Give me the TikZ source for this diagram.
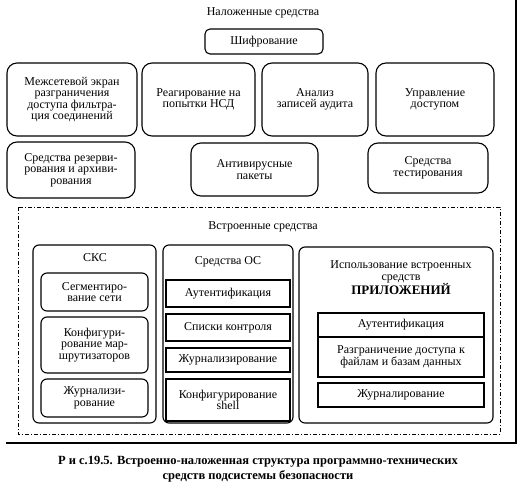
\documentclass[tikz,border=0pt]{standalone}
\usepackage{fontspec}
\setmainfont{Liberation Serif}
\begin{document}
\begin{tikzpicture}[x=1pt,y=-1pt,
  txt/.style={font=\fontsize{12}{11.6}\selectfont, align=center, inner sep=0pt},
  rbox/.style={txt, draw, line width=1.1pt, rounded corners=10pt},
  sbox/.style={txt, draw, line width=1.1pt, rounded corners=6pt},
  qbox/.style={txt, draw, line width=1.1pt},
  frame/.style={draw, line width=1.1pt, rounded corners=6pt},
  dd/.style={draw, line width=0.8pt, dash pattern=on 4pt off 2pt on 1pt off 2pt},
  thick line/.style={line width=2.6pt}]
\useasboundingbox (0,0) rectangle (527,498);

\node[txt] (t1) at (263,13) {Наложенные средства};
\node[rbox, rounded corners=5pt, minimum width=118pt, minimum height=25pt] (shif) at (264,41.5) {Шифрование};

\node[rbox, minimum width=130pt, minimum height=73pt] (b1) at (72,99.5) {Межсетевой экран\\ разграничения\\ доступа фильтра-\\ция соединений};
\node[rbox, minimum width=113pt, minimum height=73pt] (b2) at (198.5,99.5) {\raisebox{4pt}{\parbox{110pt}{\centering Реагирование на\\ попытки НСД}}};
\node[rbox, minimum width=106pt, minimum height=73pt] (b3) at (315,99.5) {Анализ\\ записей аудита};
\node[rbox, minimum width=118pt, minimum height=73pt] (b4) at (435,99.5) {Управление\\ доступом};

\node[rbox, minimum width=128pt, minimum height=56pt] (b5) at (71,170) {Средства резерви-\\рования и архиви-\\рования};
\node[rbox, minimum width=127pt, minimum height=53pt] (b6) at (254.5,169.5) {\raisebox{6pt}{\parbox{120pt}{\centering Антивирусные\\ пакеты}}};
\node[rbox, minimum width=120pt, minimum height=50pt] (b7) at (428,168) {Средства\\ тестирования};

\draw[dd] (18,207) rectangle (500,434);
\node[txt] (t2) at (263,227) {Встроенные средства};

% SKS
\node[frame, minimum width=123pt, minimum height=178pt] (sks) at (94.5,334) {};
\node[txt] (sksl) at (95,258) {СКС};
\node[sbox, minimum width=107pt, minimum height=38pt] (s1) at (94.5,292) {Сегментиро-\\вание сети};
\node[sbox, minimum width=107pt, minimum height=56pt] (s2) at (94.5,345) {Конфигури-\\рование мар-\\шрутизаторов};
\node[sbox, minimum width=107pt, minimum height=38pt] (s3) at (94.5,398) {Журнализи-\\рование};

% OS
\node[frame, minimum width=130pt, minimum height=178pt] (os) at (228,334) {};
\node[txt] (osl) at (228,262) {Средства ОС};
\node[qbox, minimum width=124pt, minimum height=27pt] (o1) at (228,293.5) {Аутентификация};
\node[qbox, minimum width=124pt, minimum height=27pt] (o2) at (228,327.5) {Списки контроля};
\node[qbox, minimum width=124pt, minimum height=24pt] (o3) at (228,360) {Журнализирование};
\node[qbox, minimum width=124pt, minimum height=42pt] (o4) at (228,400) {\raisebox{4pt}{\parbox{122pt}{\centering Конфигурирование\\ shell}}};

% Applications
\node[frame, minimum width=194pt, minimum height=176pt] (app) at (396,335) {};
\node[txt] (appl) at (401,278) {Использование встроенных\\ средств\\ {\fontsize{13}{13}\selectfont\bfseries ПРИЛОЖЕНИЙ}};
\node[qbox, minimum width=166pt, minimum height=24pt] (a1) at (401,325) {Аутентификация};
\node[qbox, minimum width=166pt, minimum height=40pt] (a2) at (401,357) {Разграничение доступа к\\ файлам и базам данных};
\node[qbox, minimum width=166pt, minimum height=24pt] (a3) at (401,395) {Журналирование};

% frame lines
\coordinate (fr1) at (516,0);
\coordinate (fr2) at (516,443);
\coordinate (fr3) at (6,443);
\draw[thick line] (fr1) -- (fr2) -- (fr3);

\node[txt, font=\fontsize{12.5}{15}\selectfont\bfseries] (cap) at (258,469.5) {Р и с.19.5. Встроенно-наложенная структура программно-технических\\ средств подсистемы безопасности};
\end{tikzpicture}
\end{document}
